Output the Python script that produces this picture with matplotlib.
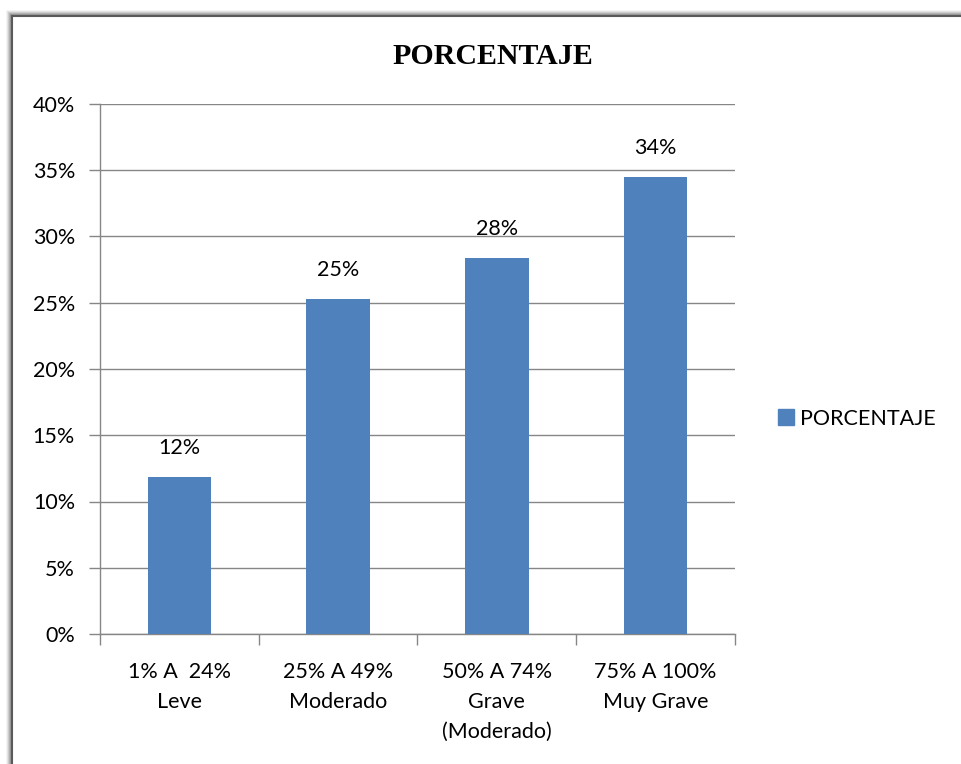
import matplotlib
matplotlib.use("Agg")
import matplotlib.pyplot as plt
from matplotlib.patches import Rectangle
from matplotlib.lines import Line2D
import numpy as np

categories = ["1% A  24%\nLeve", "25% A 49%\nModerado", "50% A 74%\nGrave\n(Moderado)", "75% A 100%\nMuy Grave"]
values = [0.1185, 0.2528, 0.2838, 0.3448]
labels = ["12%", "25%", "28%", "34%"]
yticks = [0, 0.05, 0.10, 0.15, 0.20, 0.25, 0.30, 0.35, 0.40]
series_name = "PORCENTAJE"

W, H = 962, 764
FS = 15.5
FONT = "Lato"
fig = plt.figure(figsize=(W / 100, H / 100), dpi=100)
fig.patch.set_facecolor("white")

# frame with shadow
for i, c in enumerate(["#f2f2f2", "#e0e0e0", "#c8c8c8", "#adadad", "#949494"]):
    off = 5 - i
    fig.add_artist(Rectangle(((12 - off) / W, -0.1), 2, (H - 16 + off) / H + 0.1,
                             transform=fig.transFigure, facecolor="none",
                             edgecolor=c, lw=1.2, zorder=0))
fig.add_artist(Rectangle((12 / W, -0.1), 2, (H - 16) / H + 0.1,
                         transform=fig.transFigure, facecolor="none",
                         edgecolor="#5a5a5a", lw=1.5, zorder=1))

ax = fig.add_axes([100 / W, 1 - 634 / H, 635 / W, 530 / H])
x = np.arange(len(categories))
color = "#4F81BD"
bars = ax.bar(x, values, width=0.4, color=color, zorder=3, label=series_name)
ax.set_xlim(-0.5, 3.5)
ax.set_ylim(0, 0.40)
ax.set_yticks(yticks)
ax.set_yticklabels([f"{int(round(t*100))}%" for t in yticks])
ax.yaxis.grid(True, color="#868686", lw=1, zorder=0)
ax.set_axisbelow(True)
for s in ["top", "right"]:
    ax.spines[s].set_visible(False)
for s in ["left", "bottom"]:
    ax.spines[s].set_color("#868686")
    ax.spines[s].set_linewidth(1)

ax.set_xticks(x)
ax.set_xticklabels(categories, fontsize=FS, family=FONT, linespacing=1.62)
ax.set_xticks(np.arange(-0.5, 4.0, 1.0), minor=True)
ax.tick_params(axis="x", which="major", length=0, pad=20)
ax.tick_params(axis="x", which="minor", length=8, color="#868686", width=1)
ax.tick_params(axis="y", length=8, color="#868686", width=1, labelsize=FS, pad=10)
for t in ax.get_yticklabels():
    t.set_family(FONT)

for b, lab in zip(bars, labels):
    ax.annotate(lab, (b.get_x() + b.get_width() / 2, b.get_height()),
                xytext=(0, 14), textcoords="offset points", ha="center",
                va="bottom", fontsize=FS, family=FONT)

fig.text(493 / W, 1 - 56 / H, "PORCENTAJE", ha="center", va="center",
         fontsize=21.5, fontweight="bold", family="Liberation Serif")

handle = Line2D([], [], marker="s", color=color, linestyle="none", markersize=11)
fig.legend([handle], [series_name], loc="center left",
           bbox_to_anchor=(764 / W, 1 - 419 / H), frameon=False,
           prop={"family": FONT, "size": FS}, handletextpad=0.05,
           handlelength=1.2, borderaxespad=0)

fig.savefig("out.png", dpi=100)
